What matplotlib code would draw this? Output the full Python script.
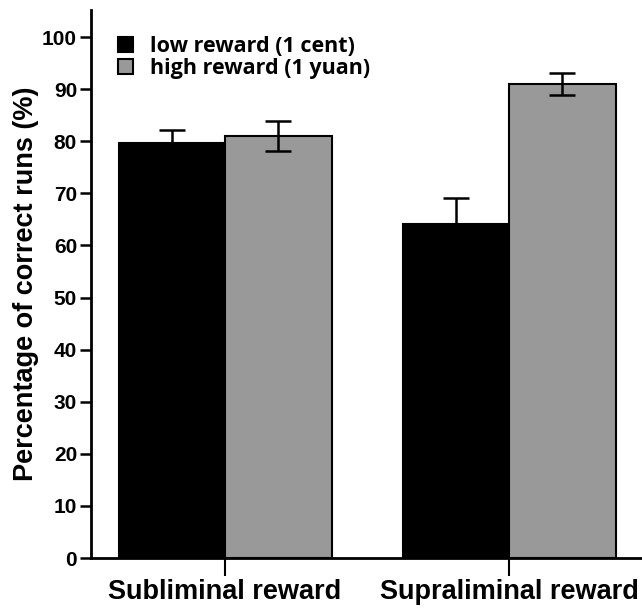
import matplotlib
matplotlib.use("Agg")
from matplotlib import pyplot as plt
from matplotlib.patches import Patch
import numpy as np

# data
groups = ["Subliminal reward", "Supraliminal reward"]
low_reward = [79.6, 64.2]
low_err = [2.5, 5.0]
high_reward = [81.0, 91.0]
high_err = [2.9, 2.1]
series_names = ["low reward (1 cent)", "high reward (1 yuan)"]

plt.rcParams["font.family"] = ["Liberation Sans", "DejaVu Sans"]

fig = plt.figure(figsize=(6.42, 6.11), dpi=100)
ax = fig.add_axes([0.1417, 0.0867, 0.857, 0.897])

x = np.arange(len(groups))
width = 0.375

ax.bar(x - width/2, low_reward, width, color="black", edgecolor="black", linewidth=1.5, zorder=2)
ax.bar(x + width/2, high_reward, width, color="#999999", edgecolor="black", linewidth=1.5, zorder=2)

ax.errorbar(x - width/2, low_reward, yerr=low_err, fmt="none", ecolor="black",
            elinewidth=1.8, capsize=9.5, capthick=1.8, zorder=3)
ax.errorbar(x + width/2, high_reward, yerr=high_err, fmt="none", ecolor="black",
            elinewidth=1.8, capsize=9.5, capthick=1.8, zorder=3)

ax.set_xlim(-0.472, 1.465)
ax.set_ylim(0, 105.2)
ax.set_yticks(range(0, 101, 10))
ax.set_xticks(x)
ax.set_xticklabels(groups, fontsize=19.5, fontweight="bold")
for lab in ax.get_yticklabels():
    lab.set_fontweight("bold")
    lab.set_fontsize(15)

ax.tick_params(axis="y", direction="out", length=8, width=1.8, pad=2)
ax.tick_params(axis="x", direction="out", length=13, width=1.5, pad=2)

for side in ("top", "right"):
    ax.spines[side].set_visible(False)
for side in ("left", "bottom"):
    ax.spines[side].set_linewidth(2)

ax.set_ylabel("Percentage of correct runs (%)", fontsize=19.5, fontweight="bold")
ax.yaxis.set_label_coords(-0.095, 0.5)

handles = [Patch(facecolor="black", edgecolor="black", linewidth=1.5),
           Patch(facecolor="#999999", edgecolor="black", linewidth=1.5)]
leg = ax.legend(handles, series_names, loc="upper left", bbox_to_anchor=(0.049, 0.953),
                frameon=False, handlelength=0.7, handleheight=0.7, handletextpad=0.8,
                labelspacing=0.05, borderaxespad=0, borderpad=0,
                prop={"family": ["Open Sans", "DejaVu Sans"], "weight": "bold", "size": 15.5})

fig.savefig("out.png", dpi=100)
